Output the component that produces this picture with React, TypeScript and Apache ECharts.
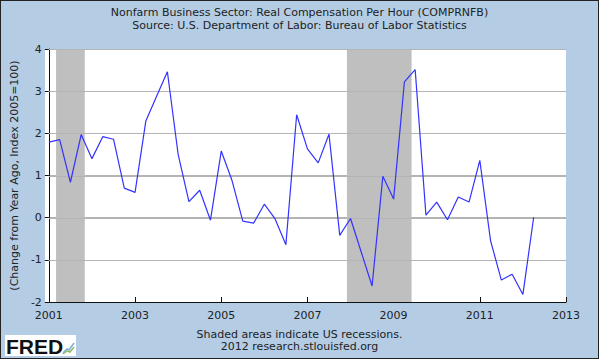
import React, { useEffect, useRef } from "react";
import * as echarts from "echarts";

const titleLines = [
  "Nonfarm Business Sector: Real Compensation Per Hour (COMPRNFB)",
  "Source: U.S. Department of Labor: Bureau of Labor Statistics",
];
const yAxisTitle = "(Change from Year Ago, Index 2005=100)";
const footerLines = ["Shaded areas indicate US recessions.", "2012 research.stlouisfed.org"];

const quarters = [
  "2001Q1", "2001Q2", "2001Q3", "2001Q4",
  "2002Q1", "2002Q2", "2002Q3", "2002Q4",
  "2003Q1", "2003Q2", "2003Q3", "2003Q4",
  "2004Q1", "2004Q2", "2004Q3", "2004Q4",
  "2005Q1", "2005Q2", "2005Q3", "2005Q4",
  "2006Q1", "2006Q2", "2006Q3", "2006Q4",
  "2007Q1", "2007Q2", "2007Q3", "2007Q4",
  "2008Q1", "2008Q2", "2008Q3", "2008Q4",
  "2009Q1", "2009Q2", "2009Q3", "2009Q4",
  "2010Q1", "2010Q2", "2010Q3", "2010Q4",
  "2011Q1", "2011Q2", "2011Q3", "2011Q4",
  "2012Q1", "2012Q2",
];
const values = [
  1.79, 1.85, 0.84, 1.97,
  1.4, 1.92, 1.86, 0.7,
  0.6, 2.29, 2.88, 3.46,
  1.5, 0.38, 0.65, -0.06,
  1.58, 0.88, -0.08, -0.13,
  0.32, -0.03, -0.64, 2.44,
  1.63, 1.3, 1.98, -0.42,
  -0.02, -0.82, -1.62, 0.98,
  0.44, 3.22, 3.51, 0.06,
  0.37, -0.05, 0.49, 0.37,
  1.36, -0.55, -1.48, -1.34,
  -1.82, 0.01,
];
// recessions as [start, end] in decimal years (Mar 2001–Nov 2001, Dec 2007–Jun 2009)
const recessions: [number, number][] = [
  [2001 + 2 / 12, 2001 + 10 / 12],
  [2007 + 11 / 12, 2009 + 5 / 12],
];
const gridValues = [4, 3, 2, 1, 0, -1];
const xMin = 2001;
const xMax = 2013;
const xInterval = 2;
const yMin = -2;
const yMax = 4;
const yInterval = 1;

const BG = "#B4CDE5";
const FONT = "'DejaVu Sans', Verdana, sans-serif";

function quarterToYear(q: string): number {
  const y = parseInt(q.slice(0, 4), 10);
  const n = parseInt(q.slice(5), 10);
  return y + (n - 1) / 4;
}

const GRID = { left: 44, top: 48, right: 32, bottom: 56 };
const W = 597;
const H = 357;

export default function App() {
  const ref = useRef<HTMLDivElement>(null);
  useEffect(() => {
    document.body.style.margin = "0";
    if (!ref.current) return;
    const chart = echarts.init(ref.current, null, { renderer: "svg" });
    const data = quarters.map((q, i) => [quarterToYear(q), values[i]]);
    chart.setOption({
      animation: false,
      backgroundColor: "transparent",
      textStyle: { fontFamily: FONT },
      title: [
        {
          text: titleLines[0],
          subtext: titleLines[1],
          left: "center",
          top: 1,
          itemGap: 2,
          textStyle: { fontSize: 11, fontWeight: "normal", color: "#222", fontFamily: FONT },
          subtextStyle: { fontSize: 11, color: "#222", fontFamily: FONT },
        },
        {
          text: footerLines[0],
          subtext: footerLines[1],
          left: "center",
          top: 323,
          itemGap: 1,
          textStyle: { fontSize: 11, fontWeight: "normal", color: "#222", fontFamily: FONT },
          subtextStyle: { fontSize: 11, color: "#222", fontFamily: FONT },
        },
      ],
      grid: { ...GRID, show: false },
      xAxis: {
        type: "value",
        min: xMin,
        max: xMax,
        interval: xInterval,
        axisLine: { show: true, onZero: false, lineStyle: { color: "#111", width: 1 } },
        axisTick: { show: true, inside: true, length: 5, lineStyle: { color: "#111" } },
        axisLabel: { color: "#222", fontSize: 11, margin: 8, formatter: (v: number) => String(v) },
        splitLine: { show: false },
      },
      yAxis: {
        type: "value",
        min: yMin,
        max: yMax,
        interval: yInterval,
        name: yAxisTitle,
        nameLocation: "middle",
        nameGap: 26,
        nameTextStyle: { fontSize: 11, color: "#222" },
        axisLine: { show: true, onZero: false, lineStyle: { color: "#111", width: 1 } },
        axisTick: { show: true, length: 4, lineStyle: { color: "#111" } },
        axisLabel: { color: "#222", fontSize: 11, margin: 7 },
        splitLine: { show: true, lineStyle: { color: "#B4B4B4", width: 1 } },
      },
      series: [
        {
          type: "custom",
          z: 1,
          silent: true,
          data: gridValues.map((v) => [xMin, v]),
          renderItem: (params: any, api: any) => {
            const v = api.value(1);
            const p1 = api.coord([xMin, v]);
            const p2 = api.coord([xMax, v]);
            return {
              type: "rect",
              shape: { x: p1[0], y: Math.round(p1[1]), width: p2[0] - p1[0], height: 1 },
              style: { fill: "#B4B4B4" },
            };
          },
        },
        {
          type: "line",
          data,
          symbol: "none",
          lineStyle: { color: "#3333FF", width: 1.2 },
          z: 3,
          markArea: {
            silent: true,
            itemStyle: { color: "#BFBFBF" },
            data: recessions.map(([s, e]) => [{ xAxis: s }, { xAxis: e }]),
          },
        },
      ],
      graphic: [
        { type: "rect", left: 4, top: 334, shape: { width: 71, height: 21 }, style: { fill: "#fff" } },
        {
          type: "text",
          left: 5,
          top: 335,
          style: { text: "FRED", font: "900 21px 'Liberation Sans', Arial, sans-serif", fill: "#111" },
        },
        {
          type: "polyline",
          shape: { points: [[62, 352], [66, 348], [68, 349], [73, 342]] },
          style: { stroke: "#7FAFD8", lineWidth: 1.5, fill: "none" },
        },
        {
          type: "polyline",
          shape: { points: [[62, 353], [66, 350], [69, 351], [73, 346]] },
          style: { stroke: "#8DBF60", lineWidth: 1.5, fill: "none" },
        },
      ],
    });
    return () => chart.dispose();
  }, []);
  return (
    <div
      style={{
        width: 599,
        height: 359,
        boxSizing: "border-box",
        border: "1px solid #222",
        background: BG,
        position: "relative",
      }}
    >
      <div
        style={{
          position: "absolute",
          left: GRID.left,
          top: GRID.top,
          width: W - GRID.left - GRID.right,
          height: H - GRID.top - GRID.bottom,
          background: "#fff",
        }}
      />
      <div ref={ref} style={{ position: "absolute", left: 0, top: 0, width: W, height: H }} />
    </div>
  );
}
